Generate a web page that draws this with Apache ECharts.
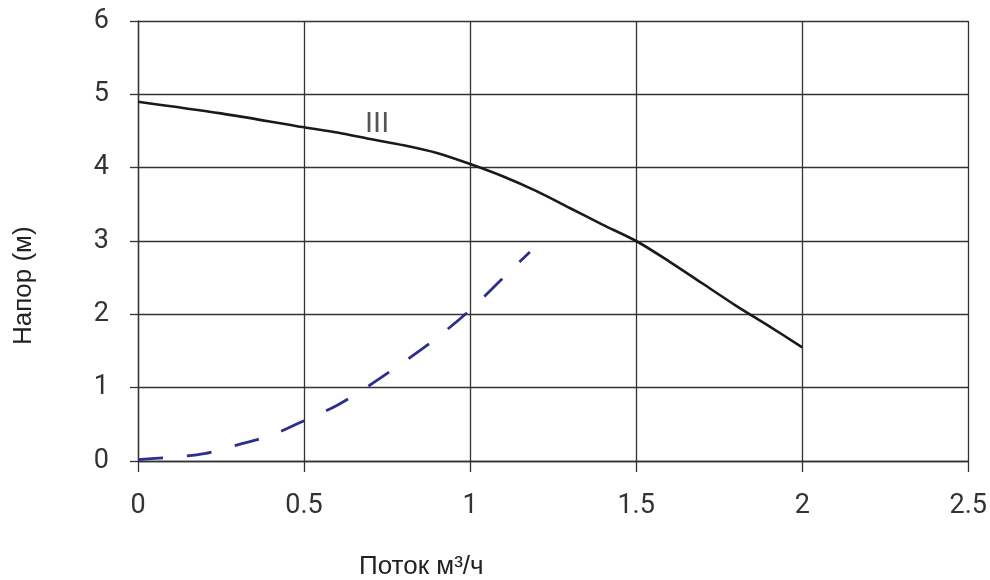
<!DOCTYPE html>
<html>
<head>
<meta charset="utf-8"/>
<title></title>
<script src="https://cdn.jsdelivr.net/npm/echarts@6/dist/echarts.min.js"></script>
<style>
  html, body { margin: 0; padding: 0; background: #fff; }
</style>
</head>
<body>
<div id="chart" style="width:990px;height:580px;"></div>
<script type="text/javascript">

// x ticks / y ticks
var xTicks = [0, 0.5, 1, 1.5, 2, 2.5];
var yTicks = [0, 1, 2, 3, 4, 5, 6];

// pump curve III (solid)
var pumpFlow = [0, 0.25, 0.5, 0.6, 0.7, 0.8, 0.9, 1.0, 1.1, 1.2, 1.3, 1.4, 1.5, 1.6, 1.7, 1.8, 1.9, 2.0];
var pumpHead = [4.9, 4.74, 4.55, 4.48, 4.39, 4.305, 4.2, 4.05, 3.88, 3.68, 3.45, 3.22, 3.0, 2.72, 2.42, 2.12, 1.84, 1.55];

// system curve (dashed)
var sysFlow = [0, 0.1, 0.2, 0.3, 0.4, 0.5, 0.6, 0.7, 0.8, 0.9, 1.0, 1.1, 1.18];
var sysHead = [0.02, 0.05, 0.1, 0.22, 0.35, 0.55, 0.76, 1.04, 1.35, 1.68, 2.06, 2.5, 2.85];

var curveLabel = 'III';
var curveLabelAt = [0.72, 4.6];

function pairs(xs, ys) {
    var out = [];
    for (var i = 0; i < xs.length; i++) {
        out.push([xs[i], ys[i]]);
    }
    return out;
}

var gridColor = '#333';
var tickFont = 'Roboto, "DejaVu Sans", sans-serif';
var titleFont = '"Liberation Sans", Arial, sans-serif';

var chart = echarts.init(document.getElementById('chart'));
var option = {
    animation: false,
    grid: {
        left: 138,
        right: 20,
        top: 21,
        bottom: 119
    },
    xAxis: {
        type: 'value',
        min: xTicks[0],
        max: xTicks[xTicks.length - 1],
        interval: 0.5,
        axisLine: { show: true, lineStyle: { color: gridColor, width: 1.3 } },
        axisTick: { show: true, length: 11, lineStyle: { color: gridColor, width: 1.3 } },
        axisLabel: {
            color: '#333',
            fontSize: 27,
            fontFamily: tickFont,
            margin: 32
        },
        splitLine: { show: true, lineStyle: { color: gridColor, width: 1.3 } }
    },
    yAxis: {
        type: 'value',
        min: yTicks[0],
        max: yTicks[yTicks.length - 1],
        interval: 1,
        axisLine: { show: true, lineStyle: { color: gridColor, width: 1.3 } },
        axisTick: { show: true, length: 8, lineStyle: { color: gridColor, width: 1.3 } },
        axisLabel: {
            color: '#333',
            fontSize: 27,
            fontFamily: tickFont,
            margin: 29
        },
        splitLine: { show: true, lineStyle: { color: gridColor, width: 1.3 } }
    },
    graphic: [{
        type: 'text',
        left: 359,
        top: 554,
        style: {
            text: 'Поток м³/ч',
            fill: '#222',
            font: '26px ' + titleFont
        }
    }, {
        type: 'text',
        x: 11,
        y: 345,
        rotation: Math.PI / 2,
        style: {
            text: 'Напор (м)',
            fill: '#222',
            font: '26px ' + titleFont
        }
    }],
    series: [{
        name: 'III',
        type: 'line',
        data: pairs(pumpFlow, pumpHead),
        smooth: 0.3,
        symbol: 'none',
        lineStyle: { color: '#1a1a1a', width: 2.6 },
        markPoint: {
            symbol: 'circle',
            symbolSize: 0,
            data: [{
                coord: curveLabelAt,
                label: {
                    show: true,
                    formatter: curveLabel,
                    color: '#555',
                    fontSize: 29,
                    fontFamily: titleFont,
                    letterSpacing: 1.5
                }
            }]
        }
    }, {
        name: 'system',
        type: 'line',
        data: pairs(sysFlow, sysHead),
        smooth: 0.3,
        symbol: 'none',
        lineStyle: { color: '#2e2e8f', width: 2.8, type: [25, 24] }
    }]
};
chart.setOption(option);
</script>
</body>
</html>
